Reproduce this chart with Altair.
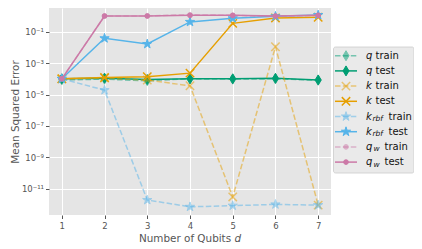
import altair as alt
import pandas as pd

# ---------------- data ----------------
qubits = [1, 2, 3, 4, 5, 6, 7]
q_train = [8.5e-5, 9.5e-5, 7.5e-5, 1.0e-4, 9.5e-5, 1.0e-4, 8.0e-5]
q_test = [1.0e-4, 1.1e-4, 9.0e-5, 1.0e-4, 1.0e-4, 1.07e-4, 8.5e-5]
k_train = [1.0e-4, 1.1e-4, 8.3e-5, 3.6e-5, 3.0e-12, 1.1e-2, 9.0e-13]
k_test = [1.0e-4, 1.2e-4, 1.35e-4, 2.3e-4, 0.34, 0.75, 0.83]
krbf_train = [1.0e-4, 1.9e-5, 1.9e-12, 7.0e-13, 8.3e-13, 1.0e-12, 9.0e-13]
krbf_test = [1.0e-4, 0.038, 0.0165, 0.42, 0.71, 0.95, 1.15]
qw_train = [1.0e-4, 1.0, 1.02, 1.2, 1.1, 0.95, 1.1]
qw_test = [1.0e-4, 1.0, 1.0, 1.1, 1.1, 1.0, 1.1]

y_ticks = [1e-11, 1e-9, 1e-7, 1e-5, 1e-3, 1e-1]
x_ticks = [1, 2, 3, 4, 5, 6, 7]

# ---------------- styles ----------------
GREEN, ORANGE, BLUE, PINK = "#009E73", "#E69F00", "#56B4E9", "#CC79A7"
DIAMOND = "M0,-1L0.6,0L0,1L-0.6,0Z"
XMARK = "M-1,-1L1,1M-1,1L1,-1"
STAR = ("M0,-1L-0.2245,-0.309L-0.951,-0.309L-0.363,0.118L-0.588,0.809L0,0.382"
        "L0.588,0.809L0.363,0.118L0.951,-0.309L0.2245,-0.309Z")

# (main, sub, suffix, values, color, dashed, shape, size, filled)
series = [
    ("q", "", "train", q_train, GREEN, True, DIAMOND, 100, True),
    ("q", "", "test", q_test, GREEN, False, DIAMOND, 100, True),
    ("k", "", "train", k_train, ORANGE, True, XMARK, 70, False),
    ("k", "", "test", k_test, ORANGE, False, XMARK, 70, False),
    ("k", "rbf", "train", krbf_train, BLUE, True, STAR, 95, True),
    ("k", "rbf", "test", krbf_test, BLUE, False, STAR, 95, True),
    ("q", "w", "train", qw_train, PINK, True, "circle", 22, True),
    ("q", "w", "test", qw_test, PINK, False, "circle", 22, True),
]

W, H = 282, 207
xscale = alt.Scale(domain=[0.7, 7.3], nice=False, zero=False)
yscale = alt.Scale(type="log", domain=[10 ** -12.675, 10 ** 0.51], nice=False)

label_expr = (
    "'10' + (round(log(datum.value)/LN10) == -1 ? '⁻¹' : "
    "round(log(datum.value)/LN10) == -3 ? '⁻³' : "
    "round(log(datum.value)/LN10) == -5 ? '⁻⁵' : "
    "round(log(datum.value)/LN10) == -7 ? '⁻⁷' : "
    "round(log(datum.value)/LN10) == -9 ? '⁻⁹' : '⁻¹¹')"
)

xaxis = alt.Axis(values=x_ticks, format="d", title=None, grid=True,
                 gridColor="white", gridWidth=1, domain=False,
                 tickColor="#555555", tickSize=3.5, labelColor="#555555",
                 labelFontSize=8.5, labelPadding=3, labelFont="DejaVu Sans")
yaxis = alt.Axis(values=y_ticks, labelExpr=label_expr, title="Mean Squared Error",
                 grid=True, gridColor="white", gridWidth=1, domain=False,
                 tickColor="#555555", tickSize=3.5, labelColor="#555555",
                 labelFontSize=8.5, labelPadding=2, labelFont="DejaVu Sans",
                 titleFont="DejaVu Sans", titleFontSize=10.4, titleFontWeight="normal",
                 titleColor="#555555", titlePadding=1)

X = alt.X("d:Q", scale=xscale, axis=xaxis)
Y = alt.Y("mse:Q", scale=yscale, axis=yaxis)

layers = []
for main, sub, suffix, vals, color, dashed, shape, size, filled in series:
    df = pd.DataFrame({"d": qubits, "mse": vals})
    op = 0.5 if dashed else 1.0
    line_kw = dict(color=color, strokeWidth=1.5, opacity=op)
    if dashed:
        line_kw["strokeDash"] = [5.5, 2.4]
    layers.append(alt.Chart(df).mark_line(**line_kw).encode(x=X, y=Y))
    pt_kw = dict(shape=shape, size=size, opacity=op, strokeWidth=1 if filled else 1.5)
    if filled:
        pt_kw.update(filled=True, fill=color, stroke=color)
    else:
        pt_kw.update(filled=False, stroke=color)
    layers.append(alt.Chart(df).mark_point(**pt_kw).encode(x=X, y=Y))

# ---------------- legend (drawn manually) ----------------
one = pd.DataFrame({"a": [0]})
layers.append(alt.Chart(one).mark_rect(fill="#EAEAEA", stroke="#CCCCCC", strokeWidth=0.8,
                                       cornerRadius=2).encode(
    x=alt.value(284.5), x2=alt.value(365), y=alt.value(39), y2=alt.value(165)))

row_y0, row_dy = 47.7, 15.2
for i, (main, sub, suffix, vals, color, dashed, shape, size, filled) in enumerate(series):
    yy = row_y0 + row_dy * i
    op = 0.5 if dashed else 1.0
    rk = dict(color=color, strokeWidth=1.5, opacity=op)
    if dashed:
        rk["strokeDash"] = [5.5, 2.4]
    layers.append(alt.Chart(one).mark_rule(**rk).encode(
        x=alt.value(286), x2=alt.value(308), y=alt.value(yy)))
    pk = dict(shape=shape, size=size, opacity=op, strokeWidth=1 if filled else 1.5)
    if filled:
        pk.update(filled=True, fill=color, stroke=color)
    else:
        pk.update(filled=False, stroke=color)
    layers.append(alt.Chart(one).mark_point(**pk).encode(x=alt.value(297), y=alt.value(yy)))
    layers.append(alt.Chart(one).mark_text(text=main, align="left", baseline="middle",
                                           font="DejaVu Sans", fontSize=10, fontStyle="italic",
                                           color="#111111").encode(
        x=alt.value(317), y=alt.value(yy)))
    if sub == "rbf":
        sx, tx = 323.5, 339.5
    elif sub == "w":
        sx, tx = 324.5, 335.5
    else:
        sx, tx = None, 326.5
    if sub:
        layers.append(alt.Chart(one).mark_text(text=sub, align="left", baseline="middle",
                                               font="DejaVu Sans", fontSize=7.5, fontStyle="italic",
                                               color="#111111").encode(
            x=alt.value(sx), y=alt.value(yy + 2.5)))
    layers.append(alt.Chart(one).mark_text(text=suffix, align="left", baseline="middle",
                                           font="DejaVu Sans", fontSize=10,
                                           color="#111111").encode(
        x=alt.value(tx), y=alt.value(yy)))

# x-axis title with italic d
layers.append(alt.Chart(one).mark_text(text="Number of Qubits", align="left", baseline="alphabetic",
                                       font="DejaVu Sans", fontSize=10.4, color="#555555").encode(
    x=alt.value(90), y=alt.value(233.5)))
layers.append(alt.Chart(one).mark_text(text="d", align="left", baseline="alphabetic",
                                       font="DejaVu Sans", fontSize=10.4, fontStyle="italic",
                                       color="#555555").encode(
    x=alt.value(185.5), y=alt.value(233.5)))

chart = alt.layer(*layers).properties(
    width=W, height=H,
    autosize=alt.AutoSizeParams(type="none"),
    padding={"left": 41, "top": 0, "right": 83, "bottom": 30},
    background="white",
).configure_view(fill="#E5E5E5", stroke="transparent", strokeWidth=0)

chart.save("out.html", embed_options={"renderer": "svg", "actions": False})
